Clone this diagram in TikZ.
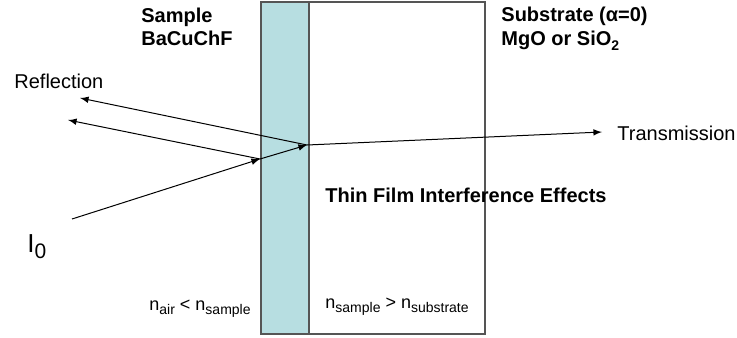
\documentclass[tikz,border=0pt]{standalone}
\usepackage{fontspec}
\setmainfont{Liberation Sans}
\usetikzlibrary{arrows}
\definecolor{filmcol}{RGB}{183,222,225}
\definecolor{edgecol}{RGB}{85,85,85}
\newcommand{\lowsub}[1]{\raisebox{-0.5ex}{\fontsize{7}{9}\selectfont #1}}

\begin{document}
\begin{tikzpicture}[x=0.5pt,y=-0.5pt,
    lbl/.style={inner sep=0pt,anchor=base west,font=\fontsize{10}{12}\selectfont},
    blbl/.style={lbl,font=\fontsize{10}{12}\selectfont\bfseries},
    nlbl/.style={lbl,font=\fontsize{9}{11}\selectfont},
    ray/.style={line width=0.5pt,-latex}]
\useasboundingbox (0,0) rectangle (737,337);
% layers
\draw[edgecol,line width=0.7pt,fill=filmcol] (261,2) rectangle (309,334);
\draw[edgecol,line width=0.7pt] (309,2) rectangle (485,334);
% ray points
\coordinate (src) at (72,219);
\coordinate (hitA) at (260,159);
\coordinate (hitB) at (307,145);
\coordinate (refA) at (80,98);
\coordinate (refB) at (68,120);
\coordinate (trans) at (602,132);
\draw[ray] (src)--(hitA);
\draw[ray] (hitA)--(hitB);
\draw[ray] (hitB)--(refA);
\draw[ray] (hitA)--(refB);
\draw[ray] (hitB)--(trans);
% labels
\node[blbl] (smp) at (141,22) {Sample};
\node[blbl] (bac) at (141,45) {BaCuChF};
\node[blbl] (sub) at (501,21) {Substrate (α=0)};
\node[blbl] (mgo) at (501,45) {MgO or SiO\lowsub{2}};
\node[lbl] (refl) at (14,88) {Reflection};
\node[lbl] (tran) at (617,140) {Transmission};
\node[blbl] (tfi) at (325,202) {Thin Film Interference Effects};
\node[inner sep=0pt,anchor=base west,font=\fontsize{13}{15}\selectfont] (izero) at (27,252) {I\raisebox{-0.5ex}{\fontsize{10.5}{12}\selectfont 0}};
\node[nlbl] (nair) at (149,310) {n\lowsub{air} < n\lowsub{sample}};
\node[nlbl] (nsub) at (325,308) {n\lowsub{sample} > n\lowsub{substrate}};
\end{tikzpicture}
\end{document}
